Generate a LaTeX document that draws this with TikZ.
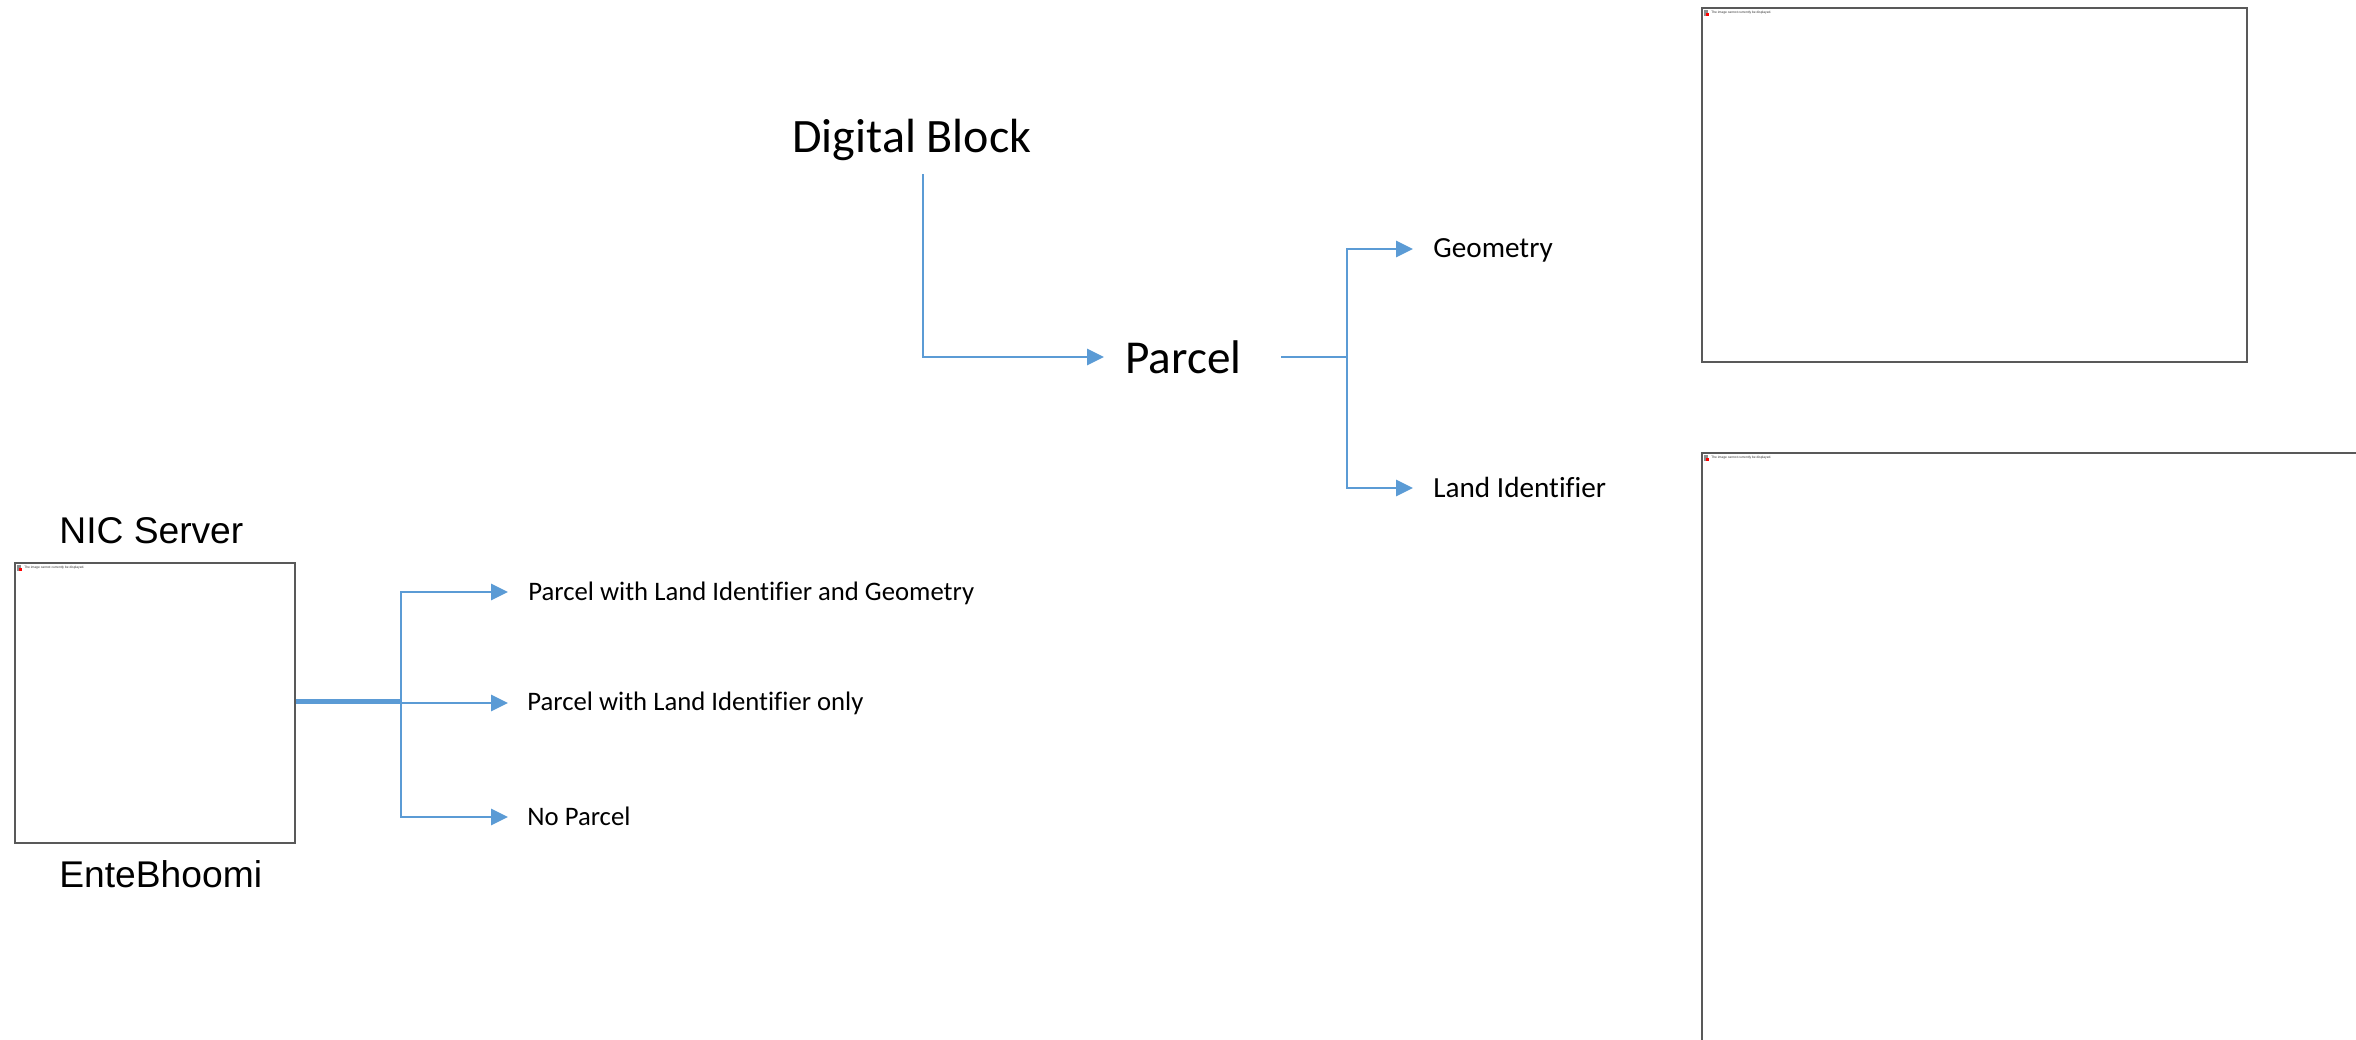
\documentclass[tikz,border=0pt]{standalone}
\usepackage{fontspec}
\setmainfont[Ligatures=CommonOff]{Carlito}
\newfontfamily\arialf{Liberation Sans}
\usetikzlibrary{arrows.meta}
\definecolor{conblue}{HTML}{5B9BD5}
\definecolor{boxgray}{HTML}{595959}
\begin{document}
\begin{tikzpicture}[x=0.5pt,y=-0.5pt,
  conn/.style={draw=conblue, line width=1.4pt},
  arr/.style={conn, -{Triangle[length=8.5pt,width=8pt]}},
  lbl/.style={anchor=base west, inner sep=0pt, font=\fontsize{13.35}{16}\selectfont},
  lblr/.style={anchor=base west, inner sep=0pt, font=\fontsize{14.6}{17}\selectfont},
  big/.style={anchor=base west, inner sep=0pt, font=\fontsize{24}{28}\selectfont},
  ar/.style={anchor=base west, inner sep=0pt, font=\arialf\fontsize{18.6}{22}\selectfont},
  imgbox/.style={draw=boxgray, line width=1pt, anchor=north west, inner sep=0pt},
  ph/.style={anchor=west, inner sep=0pt, font=\arialf\fontsize{1.64}{2}\selectfont, text=black!80},
  phgray/.style={fill=black!45},
  phred/.style={fill=red}
]
\useasboundingbox (0,0) rectangle (2356,1039);
\clip (0,0) rectangle (2356,1039);

% image placeholder boxes
\node[imgbox, minimum width=140pt, minimum height=140pt] (nic) at (14,562) {};
\node[imgbox, minimum width=272.5pt, minimum height=177pt] (topimg) at (1701,7) {};
\node[imgbox, minimum width=360pt, minimum height=340pt] (botimg) at (1701,452) {};

\foreach \b in {nic,topimg,botimg}{
  \fill[phgray] ([shift={(3,3)}]\b.north west) rectangle ++(4,6);
  \fill[phred] ([shift={(5,6)}]\b.north west) rectangle ++(3,3);
  \node[ph] at ([shift={(10,5.5)}]\b.north west) {The image cannot currently be displayed.};
}

% texts
\node[big] (db) at (792,152) {Digital Block};
\node[big, font=\fontsize{23.6}{27}\selectfont] (parcel) at (1125,373) {Parcel};
\node[lblr] (geo) at (1433,257) {Geometry};
\node[lblr] (land) at (1433,497) {Land Identifier};
\node[ar] (nicl) at (59,543) {NIC Server};
\node[ar] (ente) at (59,887) {EnteBhoomi};
\node[lbl] (o1) at (528,600) {Parcel with Land Identifier and Geometry};
\node[lbl] (o2) at (527,710) {Parcel with Land Identifier only};
\node[lbl] (o3) at (527,825) {No Parcel};

% connector points
\coordinate (dbfoot) at (923,174);
\coordinate (pin) at (1104,357);
\coordinate (pout) at (1281,357);
\coordinate (pj) at (1347,357);
\coordinate (gin) at (1413,249);
\coordinate (lin) at (1413,488);
\coordinate (nj) at (401,700.8);
\coordinate (a1) at (508,592);
\coordinate (a3) at (508,817);

% connectors
\draw[arr] (dbfoot) |- (pin);
\draw[conn] (pout) -- (pj);
\draw[arr] (pj) |- (gin);
\draw[arr] (pj) |- (lin);
\draw[conn] (nic.east |- nj) -- (nj);
\draw[arr] (nj) |- (a1);
\draw[arr] (nic.east) -- (nic.east -| a1);
\draw[arr] (nj) |- (a3);
\end{tikzpicture}
\end{document}
